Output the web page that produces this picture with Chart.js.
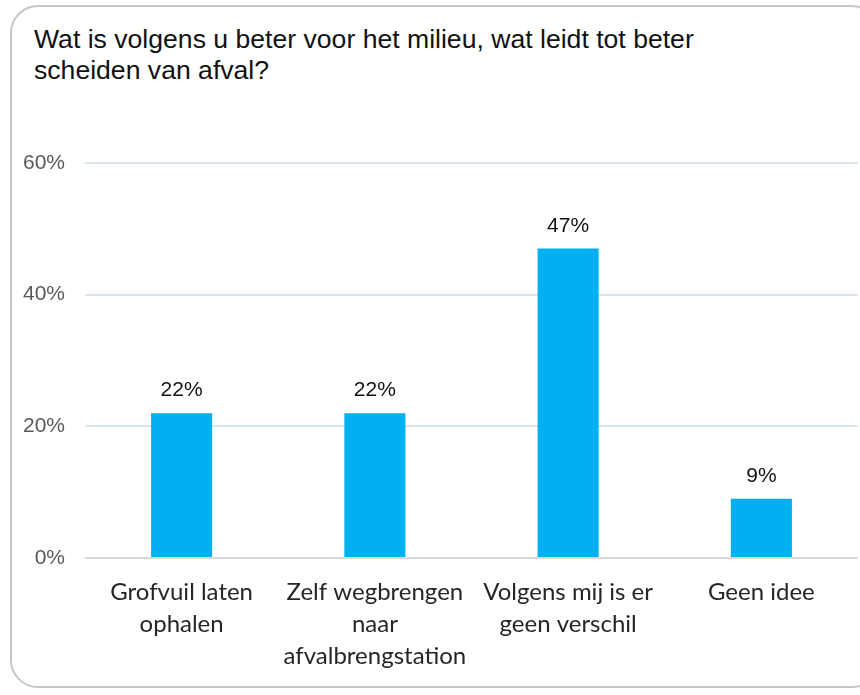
<!DOCTYPE html>
<html lang="nl">
<head>
<meta charset="utf-8">
<title>Afval scheiden</title>
<script src="https://cdn.jsdelivr.net/npm/chart.js@4/dist/chart.umd.min.js"></script>
<style>
  html, body { margin:0; padding:0; background:#fff; }
  .frame {
    position:absolute; left:10px; top:5px; width:870px; height:683px;
    border:2px solid #c6c6c6; border-radius:28px; box-sizing:border-box;
  }
  .chart-title {
    position:absolute; left:34px; top:24px;
    font-family:'Liberation Sans', Arial, sans-serif; font-size:26.6px; line-height:31px;
    color:#111;
  }
  .chart-box { position:absolute; left:0; top:0; width:860px; height:695px; }
</style>
</head>
<body>
<div class="frame"></div>
<div class="chart-title">Wat is volgens u beter voor het milieu, wat leidt tot beter<br>scheiden van afval?</div>
<div class="chart-box"><canvas id="afvalChart"></canvas></div>

<script>
/* ----------------------------------------------------------
   Data
   ---------------------------------------------------------- */
var categories = [
  ['Grofvuil laten', 'ophalen'],
  ['Zelf wegbrengen', 'naar', 'afvalbrengstation'],
  ['Volgens mij is er', 'geen verschil'],
  'Geen idee'
];
var percentages = [22, 22, 47, 9];
var yTicks = [0, 20, 40, 60];

/* ----------------------------------------------------------
   Value labels above the bars
   ---------------------------------------------------------- */
var valueLabels = {
  id: 'valueLabels',
  afterDatasetsDraw: function(chart) {
    var ctx = chart.ctx;
    var meta = chart.getDatasetMeta(0);
    ctx.save();
    ctx.font = "21px 'Liberation Sans', Arial, sans-serif";
    ctx.fillStyle = '#111';
    ctx.textAlign = 'center';
    ctx.textBaseline = 'alphabetic';
    meta.data.forEach(function(bar, i) {
      ctx.fillText(percentages[i] + '%', bar.x, bar.y - 17);
    });
    ctx.restore();
  }
};

/* ----------------------------------------------------------
   Chart
   ---------------------------------------------------------- */
new Chart(document.getElementById('afvalChart'), {
  type: 'bar',
  data: {
    labels: categories,
    datasets: [{
      data: percentages,
      backgroundColor: '#00B0F0',
      barPercentage: 0.316,
      categoryPercentage: 1
    }]
  },
  options: {
    responsive: true, maintainAspectRatio: false, animation: false,
    layout: { padding: { left: 23, right: 2, top: 163, bottom: 0 } },
    plugins: { legend: { display:false }, tooltip: { enabled:false } },
    scales: {
      x: {
        grid: { display:false, drawTicks:false },
        border: { display:false },
        ticks: {
          padding: 18, color: '#262626',
          font: { family: "Lato, 'Open Sans', sans-serif", size: 24, lineHeight: 1.333 }
        },
        afterFit: function(scale) { scale.height = 137; }
      },
      y: {
        min: 0, max: 60,
        afterBuildTicks: function(scale) {
          scale.ticks = yTicks.map(function(v) { return { value: v }; });
        },
        grid: {
          drawTicks: false, lineWidth: 2,
          color: function(c) { return c.tick && c.tick.value === 0 ? '#d9d9d9' : '#dde4f1'; }
        },
        border: { display:false },
        ticks: {
          padding: 20, color: '#595959',
          font: { family: "'Liberation Sans', Arial, sans-serif", size: 21 },
          callback: function(v) { return v + '%'; }
        },
        afterFit: function(scale) { scale.width = 62; }
      }
    }
  },
  plugins: [valueLabels]
});
</script>
</body>
</html>
